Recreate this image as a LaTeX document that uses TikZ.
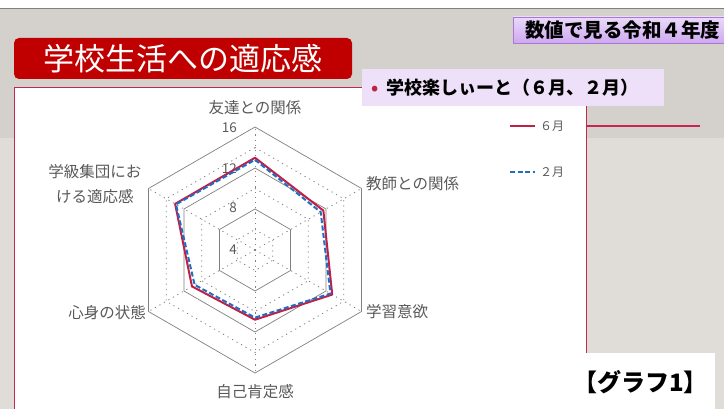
\documentclass[tikz,border=0pt]{standalone}
\usepackage{fontspec}
\setmainfont{Noto Sans CJK JP}
\definecolor{bgtop}{RGB}{212,209,204}
\definecolor{bgbot}{RGB}{224,220,215}
\definecolor{titlered}{RGB}{192,0,0}
\definecolor{panelred}{RGB}{196,40,80}
\definecolor{lavender}{RGB}{238,224,248}
\definecolor{headtop}{RGB}{234,218,250}
\definecolor{headbot}{RGB}{206,168,240}
\definecolor{headline}{RGB}{170,120,210}
\definecolor{junred}{RGB}{192,32,72}
\definecolor{febblue}{RGB}{30,110,195}
\definecolor{gridgray}{RGB}{128,128,128}
\definecolor{labelgray}{RGB}{89,89,89}
\newcommand{\rstep}{10.25}

\begin{document}
\begin{tikzpicture}[x=1pt, y=-1pt, line join=round,
    axislabel/.style={text=labelgray, font=\fontsize{15.5}{25}\selectfont, inner sep=0pt},
    ticklabel/.style={text=labelgray, font=\fontsize{13.5}{15}\selectfont, inner sep=0pt, anchor=east},
    legendtext/.style={text=labelgray, font=\fontsize{12}{14}\selectfont, inner sep=0pt, anchor=west},
    majorring/.style={gridgray, line width=0.7pt},
    minorring/.style={gridgray, line width=0.8pt, dash pattern=on 1.2pt off 4pt},
    junline/.style={junred, line width=2pt},
    febline/.style={febblue, line width=2pt, dash pattern=on 5pt off 2.5pt}]
    % Page and background bands
    \useasboundingbox (0,0) rectangle (724,409);
    \clip (0,0) rectangle (724,409);
    \fill[white] (0,0) rectangle (724,9);
    \fill[bgtop] (0,9) rectangle (724,138);
    \fill[bgbot] (0,138) rectangle (724,409);
    \draw[gray, line width=1pt] (0,9) -- (724,9);

    % White panel of the chart
    \draw[panelred, line width=0.8pt, fill=white] (14,87) rectangle (586,415);
    \draw[panelred, line width=2pt] (586,126) -- (700,126);

    % Title and headings
    \node[fill=titlered, rounded corners=5pt, minimum width=338pt, minimum height=41pt,
          inner sep=0pt, text=white, font=\fontsize{31}{31}\selectfont] (title) at (183,58.5) {学校生活への適応感};
    \node[anchor=west, top color=headtop, bottom color=headbot, draw=headline,
          minimum height=26pt, inner xsep=12pt, inner ysep=0pt,
          font=\bfseries\fontsize{19.5}{19.5}\selectfont] (head) at (513,30) {数値で見る令和４年度};
    \node[anchor=west, fill=lavender, text width=284pt, inner xsep=9pt, minimum height=37pt,
          align=left, font=\bfseries\fontsize{18}{18}\selectfont] (sub) at (362,87.5)
          {\textcolor{junred}{•}\hspace{8pt}学校楽しぃーと（６月、２月）};
    \node[anchor=north west, fill=white, text width=130pt, inner xsep=0pt, minimum height=58pt,
          align=left, font=\bfseries\fontsize{24}{24}\selectfont] (tag) at (585,353)
          {\hspace*{-12pt}【グラフ1】};

    % Legend
    \node[legendtext] (leg6) at (540,126.5) {６月};
    \node[legendtext] (leg2) at (540,172.5) {２月};
    \coordinate (leg6a) at (510,126);
    \coordinate (leg2a) at (510,172);
    \draw[junline, line width=2.6pt] (leg6a) -- ([xshift=-5pt]leg6.west |- leg6a);
    \draw[febline] (leg2a) -- ([xshift=-5pt]leg2.west |- leg2a);

    \begin{scope}[shift={(255,250)}, y=1pt]
    % Spokes
    \draw[minorring] (0,0) -- (90:123);
    \draw[minorring] (0,0) -- (30:123);
    \draw[minorring] (0,0) -- (-30:123);
    \draw[minorring] (0,0) -- (-90:123);
    \draw[minorring] (0,0) -- (210:123);
    \draw[minorring] (0,0) -- (150:123);

    % Rings: 8, 12, 16 solid, 6, 10, 14 dotted
    \draw[minorring] (90:20.5) -- (30:20.5) -- (-30:20.5) -- (-90:20.5) -- (210:20.5) -- (150:20.5) -- cycle;
    \draw[majorring] (90:41) -- (30:41) -- (-30:41) -- (-90:41) -- (210:41) -- (150:41) -- cycle;
    \draw[minorring] (90:61.5) -- (30:61.5) -- (-30:61.5) -- (-90:61.5) -- (210:61.5) -- (150:61.5) -- cycle;
    \draw[majorring] (90:82) -- (30:82) -- (-30:82) -- (-90:82) -- (210:82) -- (150:82) -- cycle;
    \draw[minorring] (90:102.5) -- (30:102.5) -- (-30:102.5) -- (-90:102.5) -- (210:102.5) -- (150:102.5) -- cycle;
    \draw[majorring] (90:123) -- (30:123) -- (-30:123) -- (-90:123) -- (210:123) -- (150:123) -- cycle;

    % Scale labels
    \node[ticklabel] (t16) at (-18,122) {16};
    \node[ticklabel] (t12) at (-18,81) {12};
    \node[ticklabel] (t8) at (-18,42) {8};
    \node[ticklabel] (t4) at (-18,0) {4};

    % Axis labels
    \node[axislabel] (friends) at (0,142) {友達との関係};
    \node[axislabel, anchor=west] (teacher) at (111,66) {教師との関係};
    \node[axislabel, anchor=west] (study) at (111,-62) {学習意欲};
    \node[axislabel] (esteem) at (0,-142) {自己肯定感};
    \node[axislabel, anchor=east] (health) at (-109,-63) {心身の状態};
    \node[axislabel, align=center] (klass) at (-160,65.5) {学級集団にお\\ける適応感};

    % June values
    \coordinate (J1) at (90:{(13.0-4)*\rstep});   % friends
    \coordinate (J2) at (30:{(11.7-4)*\rstep});   % teacher
    \coordinate (J3) at (-30:{(12.7-4)*\rstep});  % study
    \coordinate (J4) at (-90:{(10.8-4)*\rstep});  % esteem
    \coordinate (J5) at (210:{(11.1-4)*\rstep});  % health
    \coordinate (J6) at (150:{(13.0-4)*\rstep});  % class

    % February values
    \coordinate (F1) at (90:{(12.8-4)*\rstep});
    \coordinate (F2) at (30:{(11.4-4)*\rstep});
    \coordinate (F3) at (-30:{(12.5-4)*\rstep});
    \coordinate (F4) at (-90:{(10.6-4)*\rstep});
    \coordinate (F5) at (210:{(10.8-4)*\rstep});
    \coordinate (F6) at (150:{(12.9-4)*\rstep});

    % Data lines
    \draw[junline] (J1) -- (J2) -- (J3) -- (J4) -- (J5) -- (J6) -- cycle;
    \draw[febline] (F1) -- (F2) -- (F3) -- (F4) -- (F5) -- (F6) -- cycle;
    \end{scope}
\end{tikzpicture}
\end{document}
